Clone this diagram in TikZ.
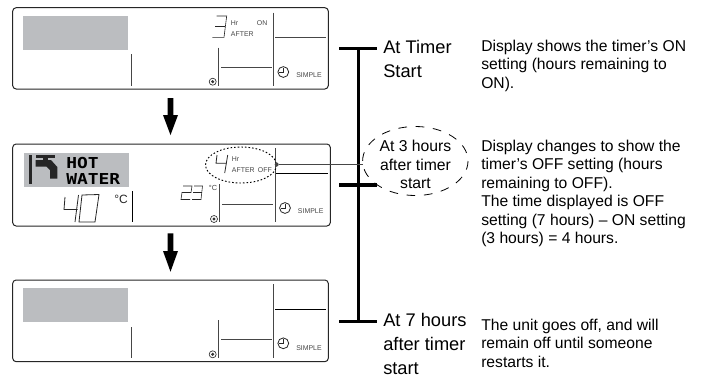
\documentclass[tikz,border=0pt]{standalone}
\usepackage{fontspec}
\setmainfont{Liberation Sans}
\newfontfamily\blockfont{DejaVu Sans Mono}
\usetikzlibrary{arrows.meta}
\definecolor{lcdgrey}{RGB}{187,189,192}
\definecolor{inkgrey}{RGB}{70,70,70}
\tikzset{
  x=0.75pt,y=-0.75pt,
  panelbox/.style={draw=black!85,line width=0.75pt,rounded corners=2.6pt,fill=white},
  lcd/.style={fill=lcdgrey,draw=none},
  rule/.style={draw=inkgrey,line width=0.75pt},
  darkrule/.style={draw=black,line width=0.65pt},
  seg/.style={draw=black!85,line width=0.45pt,line join=miter},
  bigseg/.style={draw=black!85,line width=0.6pt,line join=miter},
  tiny/.style={inner sep=0pt,anchor=west,text=inkgrey,font=\fontsize{5.2}{6}\selectfont},
  bigarrow/.style={draw=none,fill=black},
  timeline/.style={draw=black,line width=2.3pt},
  stage/.style={inner sep=0pt,anchor=north west,align=left,font=\fontsize{13.7}{18}\selectfont},
  note/.style={inner sep=0pt,anchor=north west,align=left,font=\fontsize{11.75}{13.9}\selectfont},
  bubble/.style={draw=black,line width=0.6pt,dash pattern=on 6.5pt off 6.5pt},
  dotbubble/.style={draw=black,line width=0.7pt,dash pattern=on 1.2pt off 1.5pt},
  blocktext/.style={inner sep=0pt,anchor=west,font=\blockfont\bfseries\fontsize{11.3}{12}\selectfont}
}
\newcommand{\clockicon}[2]{%
  \draw[draw=black!85,line width=0.6pt] (#1,#2) circle (5.4);
  \draw[draw=black!85,line width=0.6pt] (#1,#2-4.5) -- (#1,#2+0.5) -- (#1-4.5,#2+0.5);}
\newcommand{\targeticon}[2]{%
  \draw[draw=black!80,line width=0.5pt] (#1,#2) circle (3.5);
  \fill[black!80] (#1,#2) circle (1.7);}
\begin{document}
\begin{tikzpicture}
\useasboundingbox (0,0) rectangle (704,376);
% panel 1
\draw[panelbox] (12.7,7.7) rectangle (328.3,89);
\fill[lcd] (22.7,16) rectangle (128,50);
\draw[rule] (131.7,54.3) -- (131.7,85.7);
\draw[rule] (218.7,47.7) -- (218.7,85.7);
\draw[rule] (273.7,12.7) -- (273.7,85.7);
\draw[rule] (275,37.3) -- (325.7,37.3);
\draw[rule] (221,67.7) -- (271.7,67.7);
\clockicon{283.3}{72}
\targeticon{212.7}{81.7}
\node[tiny] (s1) at (296,75.3) {SIMPLE};
\draw[seg] (216.7,16) -- (226.7,16) -- (224,37.3) -- (212.3,37.3);
\draw[seg] (215,26.7) -- (225,26.7);
\node[tiny] (h1) at (230.7,23) {Hr};
\node[tiny] (on1) at (256.7,23) {ON};
\node[tiny] (a1) at (230.7,34) {AFTER};
% panel 2
\draw[panelbox] (12.7,144) rectangle (330.3,226);
\fill[lcd] (24,153) rectangle (129,187);
\fill[black!85] (29.3,155) rectangle (32.3,184);
\fill[black!85] (35.7,155) rectangle (55,158.3);
\fill[black!85] (43.3,158) rectangle (48.3,161);
\fill[black!85] (35.7,160) -- (51,160) -- (57.3,167) -- (57.3,178.5) -- (50,178.5) -- (50,170) -- (46.5,166.7) -- (35.7,166.7) -- cycle;
\node[blocktext] (hot) at (66,163) {\scalebox{1.19}[1]{HOT}};
\node[blocktext] (water) at (66,179) {\scalebox{1.19}[1]{WATER}};
% 40
\draw[bigseg] (65,197) -- (64,209.5) -- (77.5,209.5);
\draw[bigseg] (78.5,195) -- (75,222);
\draw[bigseg] (82,195) -- (99,194.5) -- (95,222) -- (79,222) -- cycle;
\node[inner sep=0pt,font=\fontsize{9}{10}\selectfont,text=black!85] (c1) at (121,199) {°C};
\draw[darkrule] (132,191) -- (132,222);
% 23
\draw[seg] (183,186) -- (192,186) -- (191,192.5) -- (182,192.5) -- (181,199.5) -- (190,199.5);
\draw[seg] (194,186) -- (202.5,186) -- (201,199.5) -- (192,199.5);
\draw[seg] (193,192.5) -- (202,192.5);
\node[inner sep=0pt,text=inkgrey,font=\fontsize{5.5}{6}\selectfont] (c2) at (213,188) {°C};
\draw[rule] (219.5,184) -- (219.5,222);
\draw[rule] (275,148) -- (275,222);
\draw[darkrule] (276,173) -- (328,173);
\draw[rule] (222,204) -- (273,204);
\clockicon{285}{208}
\targeticon{214}{219}
\node[tiny] (s2) at (297.7,211.5) {SIMPLE};
\draw[bigseg] (217,155) -- (216,163.3) -- (226.5,163.3);
\draw[bigseg] (227.7,155) -- (224.7,173);
\node[tiny] (h2) at (231.7,159) {Hr};
\node[tiny] (a2) at (231.7,170) {AFTER};
\node[tiny] (o2) at (257.7,170) {OFF};
\draw[dotbubble] (241,165) ellipse (35.5 and 18);
% panel 3
\draw[panelbox] (12.7,280) rectangle (328.3,361.7);
\fill[lcd] (22.7,288) rectangle (128,322);
\draw[rule] (131.7,327.3) -- (131.7,357.7);
\draw[rule] (218.7,320) -- (218.7,357.7);
\draw[rule] (273.7,284.3) -- (273.7,357.7);
\draw[darkrule] (275,309.3) -- (325.7,309.3);
\draw[rule] (221,339.3) -- (271.7,339.3);
\clockicon{283.3}{343.3}
\targeticon{212.7}{354.3}
\node[tiny] (s3) at (296,347.7) {SIMPLE};
% big arrows
\fill[bigarrow] (167.7,98) -- (173.3,98) -- (173.3,115) -- (178,115) -- (170.5,135) -- (163,115) -- (167.7,115) -- cycle;
\fill[bigarrow] (167.7,233.3) -- (173.3,233.3) -- (173.3,251) -- (178,251) -- (170.5,271.7) -- (163,251) -- (167.7,251) -- cycle;
% timeline
\coordinate (t1l) at (339,48.3);
\coordinate (t1r) at (377,48.3);
\coordinate (t2l) at (339,185);
\coordinate (t2r) at (377,185);
\coordinate (t3l) at (339,321.5);
\coordinate (t3r) at (377,321.5);
\coordinate (t1) at (358.3,48.3);
\coordinate (t3) at (358.3,321.5);
\draw[timeline] (t1) -- (t3);
\draw[timeline] (t1l) -- (t1r);
\draw[timeline] (t2l) -- (t2r);
\draw[timeline] (t3l) -- (t3r);
% callout
\node[circle,fill=inkgrey,inner sep=0pt,minimum size=3pt] (dot) at (276.7,164.5) {};
\coordinate (bub) at (362.7,164.5);
\draw[draw=inkgrey,line width=0.75pt] (dot) -- (bub);
\draw[bubble] (415.3,161) ellipse (52.7 and 34.5);
% stage labels
\node[stage] (st1) at (383,39.5) {At Timer\\Start};
\node[inner sep=0pt,align=center,font=\fontsize{11.8}{13.9}\selectfont] (st2) at (415.5,164.5) {At 3 hours\\after timer\\start};
\node[stage] (st3) at (383,312.5) {At 7 hours\\after timer\\start};
% notes
\node[note] (n1) at (481,39.5) {Display shows the timer’s ON\\setting (hours remaining to\\ON).};
\node[note] (n2) at (481,139.5) {Display changes to show the\\timer’s OFF setting (hours\\remaining to OFF).\\The time displayed is OFF\\setting (7 hours) – ON setting\\(3 hours) = 4 hours.};
\node[note] (n3) at (481,318.5) {The unit goes off, and will\\remain off until someone\\restarts it.};
\end{tikzpicture}
\end{document}
